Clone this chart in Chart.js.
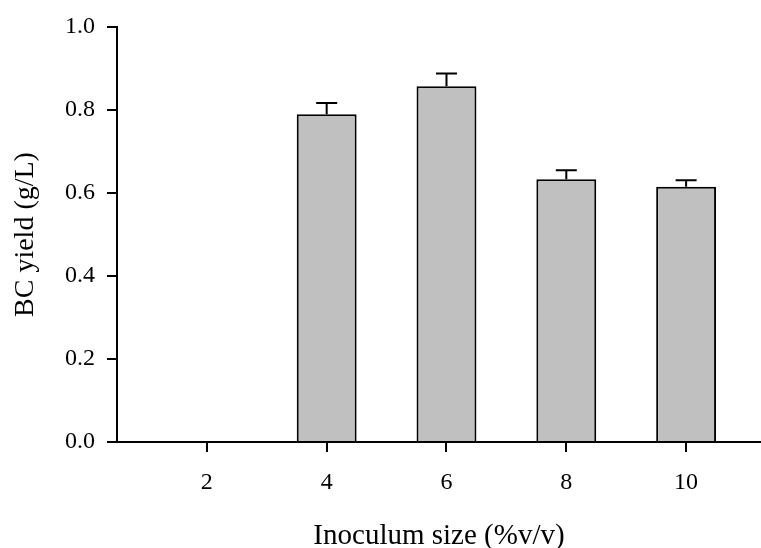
<!DOCTYPE html>
<html>
<head>
<meta charset="utf-8">
<script src="https://cdn.jsdelivr.net/npm/chart.js@4/dist/chart.umd.min.js"></script>
<style>
  html, body { margin: 0; padding: 0; background: #fff; }
  canvas { display: block; }
</style>
</head>
<body>
<canvas id="c" width="761" height="548"></canvas>
<script>
// Data
const inoculumSizes = [2, 4, 6, 8, 10];            // % v/v (x categories)
const bcYield       = [0, 0.790, 0.857, 0.633, 0.615]; // g/L
const bcYieldError  = [0, 0.027, 0.031, 0.022, 0.016]; // g/L (upper error)
const yTickValues   = [0, 0.2, 0.4, 0.6, 0.8, 1.0];

const FONT = "'Liberation Serif', 'Times New Roman', Times, serif";

const errorBarPlugin = {
  id: 'errorBars',
  afterDatasetsDraw(chart) {
    const ctx = chart.ctx;
    const xs = chart.scales.x, ys = chart.scales.y;
    ctx.save();
    ctx.strokeStyle = '#000';
    ctx.lineWidth = 2;
    inoculumSizes.forEach((c, i) => {
      const v = bcYield[i], e = bcYieldError[i];
      if (!v || !e) return;
      const px = xs.getPixelForValue(c);
      const y0 = ys.getPixelForValue(v);
      const y1 = ys.getPixelForValue(v + e);
      ctx.beginPath();
      ctx.moveTo(px, y0);
      ctx.lineTo(px, y1);
      ctx.moveTo(px - 10.5, y1);
      ctx.lineTo(px + 10.5, y1);
      ctx.stroke();
    });
    ctx.restore();
  }
};

new Chart(document.getElementById('c'), {
  type: 'bar',
  data: {
    datasets: [{
      data: inoculumSizes.map((c, i) => ({ x: c, y: bcYield[i] })),
      backgroundColor: '#c0c0c0',
      borderColor: '#000',
      borderWidth: 2,
      categoryPercentage: 1.0,
      barPercentage: 0.5
    }]
  },
  options: {
    responsive: false,
    devicePixelRatio: 1,
    animation: false,
    layout: { padding: { top: 27, right: 0, bottom: 0, left: 0 } },
    plugins: { legend: { display: false }, tooltip: { enabled: false } },
    scales: {
      x: {
        type: 'linear',
        min: 0.5,
        max: 11.25,
        offset: false,
        afterBuildTicks(scale) { scale.ticks = inoculumSizes.map(v => ({ value: v })); },
        afterFit(scale) { scale.height = 106; },
        grid: { display: true, drawOnChartArea: false, drawTicks: true, tickLength: 10, color: '#000', lineWidth: 2, offset: false },
        border: { display: true, color: '#000', width: 2 },
        ticks: {
          color: '#000',
          padding: 16,
          maxRotation: 0,
          font: { family: FONT, size: 24, lineHeight: 1.2 },
          callback: (v) => String(v)
        },
        title: {
          display: true,
          text: 'Inoculum size (%v/v)',
          color: '#000',
          font: { family: FONT, size: 29, lineHeight: 0.8 },
          padding: { top: 0, bottom: 0 }
        }
      },
      y: {
        min: 0,
        max: 1,
        afterBuildTicks(scale) { scale.ticks = yTickValues.map(v => ({ value: v })); },
        afterFit(scale) { scale.width = 117; },
        grid: { display: true, drawOnChartArea: false, drawTicks: true, tickLength: 10, color: '#000', lineWidth: 2 },
        border: { display: true, color: '#000', width: 2 },
        ticks: {
          color: '#000',
          padding: 12,
          font: { family: FONT, size: 24 },
          callback: (v) => Number(v).toFixed(1)
        },
        title: {
          display: true,
          text: 'BC yield (g/L)',
          color: '#000',
          font: { family: FONT, size: 28, lineHeight: 1 },
          padding: { top: 12, bottom: 0 }
        }
      }
    }
  },
  plugins: [errorBarPlugin]
});
</script>
</body>
</html>
